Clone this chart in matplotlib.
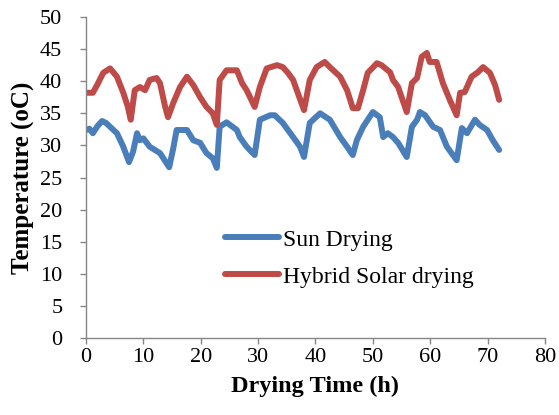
import matplotlib
matplotlib.use("Agg")
import matplotlib.pyplot as plt

# Drying temperature records (time in hours, temperature in deg C)
t_sun = [0, 0.6, 1.2, 2.0, 2.8, 3.5, 4.2, 5.4, 6.5, 7.5, 8.2, 8.9, 9.4, 10.0, 11.1,
         12.9, 14.5, 15.2, 15.8, 17.6, 18.7, 19.9, 21.0, 22.1, 22.8, 23.3, 24.5, 26.3,
         26.8, 28.0, 29.4, 30.3, 32.1, 32.9, 34.3, 36.1, 37.3, 38.0, 39.0, 40.8, 42.5,
         44.3, 45.5, 46.5, 47.2, 48.3, 50.0, 51.2, 51.8, 52.6, 53.5, 54.4, 55.9, 56.8,
         57.7, 58.2, 59.1, 60.5, 61.7, 62.9, 64.6, 65.5, 66.4, 67.8, 68.6, 69.9, 70.9, 72.0]
sun_temp = [32.4, 32.6, 31.9, 33.0, 33.8, 33.5, 32.9, 31.9, 29.8, 27.4, 29.0, 31.9, 30.8,
            31.1, 29.8, 28.8, 26.6, 29.5, 32.4, 32.4, 30.8, 30.4, 28.8, 28.0, 26.5, 32.9,
            33.6, 32.4, 31.3, 29.8, 28.5, 34.0, 34.7, 34.7, 33.5, 31.3, 29.8, 28.2, 33.5,
            35.0, 34.0, 31.3, 29.8, 28.5, 30.8, 32.9, 35.2, 34.4, 31.3, 31.9, 31.3, 30.4,
            28.2, 32.9, 34.0, 35.2, 34.7, 32.9, 32.4, 29.8, 27.7, 32.7, 31.9, 34.0, 33.2,
            32.4, 30.8, 29.3]

t_hybrid = [0, 1.2, 2.0, 3.0, 4.2, 5.4, 6.5, 7.3, 7.8, 8.5, 9.4, 10.3, 11.1, 12.3, 12.9,
            13.8, 14.3, 15.2, 16.4, 17.6, 18.7, 19.9, 21.0, 22.1, 22.8, 23.3, 24.5, 26.3,
            27.2, 28.0, 28.6, 29.4, 30.3, 31.5, 33.3, 34.3, 35.2, 36.1, 36.9, 38.0, 39.0,
            40.2, 41.6, 42.5, 44.3, 45.5, 46.5, 47.4, 48.3, 49.1, 50.7, 51.5, 53.0, 53.5,
            54.4, 55.9, 56.8, 57.7, 58.5, 59.4, 59.9, 61.1, 62.2, 63.4, 64.6, 65.2, 66.0,
            67.2, 68.3, 69.2, 70.4, 71.3, 72.0]
hybrid_temp = [38.2, 38.2, 39.5, 41.3, 42.0, 40.7, 38.2, 36.0, 34.0, 38.6, 39.1, 38.6,
               40.2, 40.5, 39.7, 36.0, 34.4, 36.6, 39.1, 40.7, 39.4, 37.5, 36.0, 35.0,
               33.2, 40.2, 41.7, 41.7, 39.7, 38.6, 37.5, 36.0, 39.1, 42.0, 42.5, 42.2,
               41.3, 40.2, 38.2, 35.5, 40.2, 42.2, 43.0, 42.2, 40.7, 38.6, 35.8, 35.8,
               38.6, 41.3, 42.8, 42.5, 41.4, 40.2, 39.1, 35.2, 39.7, 40.5, 43.8, 44.4,
               43.0, 43.0, 39.7, 37.1, 34.7, 38.2, 38.3, 40.7, 41.4, 42.2, 41.3, 39.4, 37.1]

x_ticks = [0, 10, 20, 30, 40, 50, 60, 70, 80]
y_ticks = [0, 5, 10, 15, 20, 25, 30, 35, 40, 45, 50]

plt.rcParams['font.family'] = ['Liberation Serif', 'DejaVu Serif']

fig = plt.figure(figsize=(5.59, 4.15), dpi=100)
ax = fig.add_axes([0.1538, 0.1855, 0.8212, 0.7735])

ax.plot(t_sun, sun_temp, color='#4A7EBB', lw=4.3, solid_capstyle='round',
        solid_joinstyle='round', label='Sun Drying')
ax.plot(t_hybrid, hybrid_temp, color='#BE4B48', lw=4.3, solid_capstyle='round',
        solid_joinstyle='round', label='Hybrid Solar drying')

ax.set_xlim(0, 80)
ax.set_ylim(0, 50)
ax.set_xticks(x_ticks)
ax.set_yticks(y_ticks)
ax.tick_params(axis='both', labelsize=16, colors='#868686', labelcolor='black',
               length=4, width=1, direction='out')
ax.tick_params(axis='y', pad=13)
for side in ('top', 'right'):
    ax.spines[side].set_visible(False)
for side in ('left', 'bottom'):
    ax.spines[side].set_color('#868686')
    ax.spines[side].set_linewidth(1)

ax.set_xlabel('Drying Time (h)', fontsize=17.5, fontweight='bold', labelpad=6)
ax.set_ylabel('Temperature (oC)', fontsize=18, fontweight='bold', labelpad=4)

ax.legend(loc='center left', bbox_to_anchor=(0.303, 0.248), frameon=False,
          fontsize=17, handlelength=2.3, handletextpad=0.15, labelspacing=0.65,
          borderpad=0, borderaxespad=0)

fig.savefig('out.png', dpi=100)
